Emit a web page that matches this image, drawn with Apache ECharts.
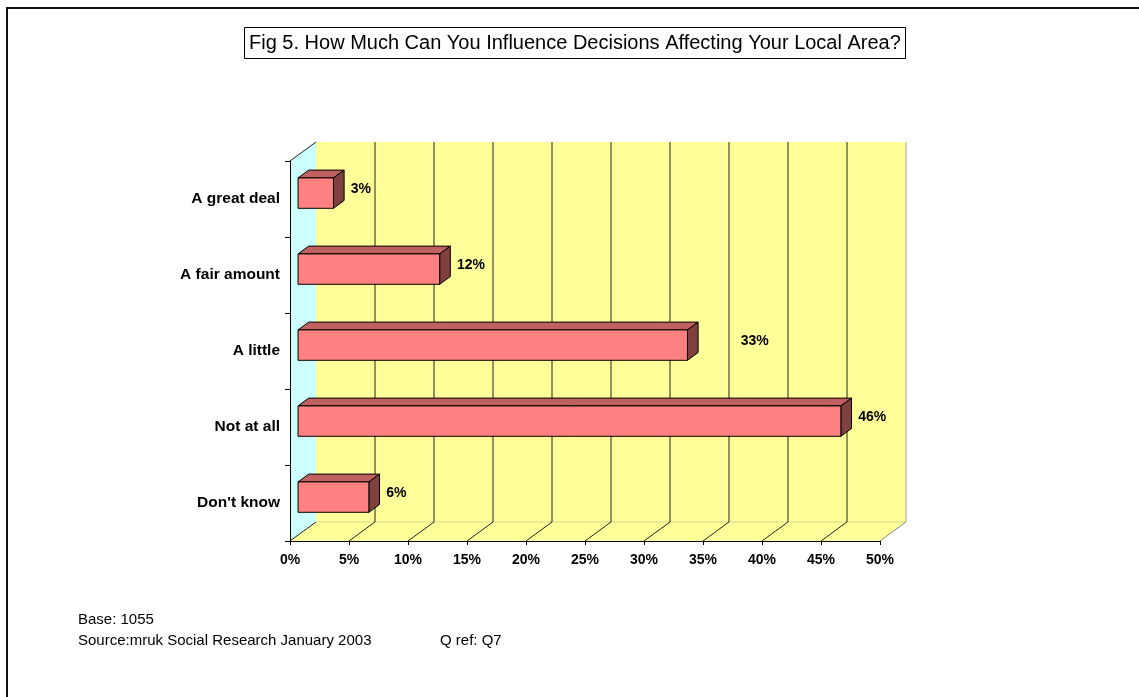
<!DOCTYPE html>
<html>
<head>
<meta charset="utf-8">
<script src="https://cdn.jsdelivr.net/npm/echarts@6/dist/echarts.min.js"></script>
<style>
  html, body { margin: 0; padding: 0; background: #fff; }
  #chart { width: 1139px; height: 697px; }
</style>
</head>
<body>
<div id="chart"></div>
<script>
// data
const categories = ['A great deal', 'A fair amount', 'A little', 'Not at all', "Don't know"];
const values = [3, 12, 33, 46, 6];
const xMin = 0;
const xMax = 50;
const xStep = 5;

const titleText = 'Fig 5. How Much Can You Influence Decisions Affecting Your Local Area?';
const baseLine = 'Base: 1055';
const sourceLine = 'Source:mruk Social Research January 2003';
const qRefLine = 'Q ref: Q7';

// fake 3d look (pixels)
const DEPTH = [26, -19];
const BAR_FRONT = 0.31;
const BAR_BACK = 0.72;
const labelShift = { 'A little': 36 }; // excel pushed this label out
const FONT = '"Liberation Sans", Arial, sans-serif';

function renderWalls(params, api) {
  const cs = params.coordSys;
  const L = cs.x, T = cs.y, R = cs.x + cs.width, B = cs.y + cs.height;
  const dx = DEPTH[0], dy = DEPTH[1];
  const kids = [];
  // side wall
  kids.push({ type: 'polygon', shape: { points: [[L, T], [L + dx, T + dy], [L + dx, B + dy], [L, B]] },
    style: { fill: '#CCFFFF', stroke: null } });
  // back wall
  kids.push({ type: 'polygon', shape: { points: [[L + dx, T + dy], [R + dx, T + dy], [R + dx, B + dy], [L + dx, B + dy]] },
    style: { fill: '#FFFF99', stroke: null } });
  // floor
  kids.push({ type: 'polygon', shape: { points: [[L, B], [R, B], [R + dx, B + dy], [L + dx, B + dy]] },
    style: { fill: '#FFFF99', stroke: null } });
  kids.push({ type: 'line', shape: { x1: L + dx, y1: B + dy, x2: R + dx, y2: B + dy },
    style: { stroke: '#d6d690', lineWidth: 1 } });
  kids.push({ type: 'line', shape: { x1: L, y1: T, x2: L + dx, y2: T + dy },
    style: { stroke: '#222', lineWidth: 1 } });
  kids.push({ type: 'line', shape: { x1: R + dx, y1: T + dy, x2: R + dx, y2: B + dy },
    style: { stroke: '#aaa', lineWidth: 1 } });
  for (let v = xMin; v <= xMax; v += xStep) {
    const x = api.coord([v, 0])[0];
    if (v > xMin && v < xMax) {
      kids.push({ type: 'line', shape: { x1: x + dx, y1: T + dy, x2: x + dx, y2: B + dy },
        style: { stroke: '#222', lineWidth: 1 } });
    }
    kids.push({ type: 'line', shape: { x1: x, y1: B, x2: x + dx, y2: B + dy },
      style: { stroke: v === xMax ? '#888' : '#222', lineWidth: 1 } });
  }
  return { type: 'group', children: kids };
}

function renderBar(params, api) {
  const idx = params.dataIndex;
  const val = api.value(0);
  const end = api.coord([val, idx]);
  const x0 = api.coord([0, idx])[0];
  const x1 = end[0], yc = end[1];
  const h = api.size([0, 1])[1] * 0.4;
  const fx = DEPTH[0] * BAR_FRONT, fy = DEPTH[1] * BAR_FRONT;
  const bx = DEPTH[0] * BAR_BACK, by = DEPTH[1] * BAR_BACK;
  const top = yc - h / 2, bot = yc + h / 2;
  const line = { stroke: '#000', lineWidth: 1 };
  const kids = [
    { type: 'polygon', shape: { points: [[x0 + fx, top + fy], [x1 + fx, top + fy], [x1 + bx, top + by], [x0 + bx, top + by]] },
      style: Object.assign({ fill: '#C06060' }, line) },
    { type: 'polygon', shape: { points: [[x1 + fx, top + fy], [x1 + bx, top + by], [x1 + bx, bot + by], [x1 + fx, bot + fy]] },
      style: Object.assign({ fill: '#804040' }, line) },
    { type: 'rect', shape: { x: x0 + fx, y: top + fy, width: x1 - x0, height: h },
      style: Object.assign({ fill: '#FF8080' }, line) },
    { type: 'text', x: x1 + (fx + bx) / 2 + 12 + (labelShift[categories[idx]] || 0), y: yc + (fy + by) / 2,
      style: { text: val + '%', fill: '#000', font: 'bold 14px ' + FONT, verticalAlign: 'middle', align: 'left' } }
  ];
  return { type: 'group', children: kids };
}

const chart = echarts.init(document.getElementById('chart'));
chart.setOption({
  animation: false,
  backgroundColor: '#fff',
  title: {
    text: titleText,
    left: 244, top: 27,
    padding: [6, 5, 6, 5],
    borderColor: '#000', borderWidth: 1, backgroundColor: '#fff',
    textStyle: { fontFamily: FONT, fontSize: 20, fontWeight: 'normal', color: '#000' }
  },
  grid: { left: 290, right: 259, top: 161, bottom: 156, containLabel: false },
  xAxis: {
    type: 'value', min: xMin, max: xMax, interval: xStep,
    axisLine: { show: true, lineStyle: { color: '#000', width: 1 } },
    axisTick: { show: true, length: 4, lineStyle: { color: '#000' } },
    splitLine: { show: false },
    axisLabel: { formatter: '{value}%', margin: 12, color: '#000', fontFamily: FONT, fontSize: 14, fontWeight: 'bold' }
  },
  yAxis: {
    type: 'category', data: categories, inverse: true,
    axisLine: { show: true, lineStyle: { color: '#000', width: 1 } },
    axisTick: { show: true, length: 5, lineStyle: { color: '#000' } },
    axisLabel: { margin: 10, color: '#000', fontFamily: FONT, fontSize: 15.5, fontWeight: 'bold' }
  },
  graphic: [
    { type: 'polyline', shape: { points: [[7, 697], [7, 8], [1139, 8]] }, style: { stroke: '#111', lineWidth: 2, fill: null } },
    { type: 'text', left: 78, top: 612, style: { text: baseLine, font: '15px ' + FONT, fill: '#000' } },
    { type: 'text', left: 78, top: 633, style: { text: sourceLine, font: '15px ' + FONT, fill: '#000' } },
    { type: 'text', left: 440, top: 633, style: { text: qRefLine, font: '15px ' + FONT, fill: '#000' } }
  ],
  series: [
    { type: 'custom', z: -1, silent: true, renderItem: renderWalls, data: [[0, 0]], encode: { x: 0, y: 1 } },
    { type: 'custom', z: 2, silent: true, renderItem: renderBar, data: values.map((v, i) => [v, i]), encode: { x: 0, y: 1 } }
  ]
});
</script>
</body>
</html>
